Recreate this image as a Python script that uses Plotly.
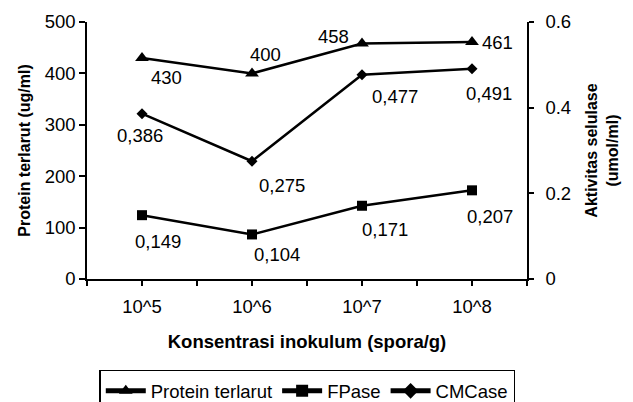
import plotly.graph_objects as go

categories = ["10^5", "10^6", "10^7", "10^8"]
protein = [430, 400, 458, 461]
fpase = [0.149, 0.104, 0.171, 0.207]
cmcase = [0.386, 0.275, 0.477, 0.491]

left_ticks = [0, 100, 200, 300, 400, 500]
right_ticks = [0, 0.2, 0.4, 0.6]
right_ticktext = ["0", "0.2", "0.4", "0.6"]

FONT = "Liberation Sans, Arial, sans-serif"
FS = 18.5
FS_V = 16

xpos = list(range(len(categories)))

fig = go.Figure()
fig.add_trace(go.Scatter(x=xpos, y=protein, name="Protein terlarut", mode="lines+markers",
                         line=dict(color="black", width=2.5),
                         marker=dict(symbol="triangle-up", size=12, color="black"),
                         yaxis="y", hoverinfo="skip"))
fig.add_trace(go.Scatter(x=xpos, y=fpase, name="FPase", mode="lines+markers",
                         line=dict(color="black", width=2.5),
                         marker=dict(symbol="square", size=10, color="black"),
                         yaxis="y2", hoverinfo="skip"))
fig.add_trace(go.Scatter(x=xpos, y=cmcase, name="CMCase", mode="lines+markers",
                         line=dict(color="black", width=2.5),
                         marker=dict(symbol="diamond", size=8.5, color="black"),
                         yaxis="y2", hoverinfo="skip"))

def fmt(v):
    return f"{v:.3f}".replace(".", ",")

protein_off = [(24, -20), (13, 19), (-29, 7), (25, 0)]
fpase_off = [(16, -26), (25, -20), (23, -24), (18, -26)]
cmcase_off = [(-2, -22), (30, -24), (33, -22), (17, -25)]

ann = []
for i, v in enumerate(protein):
    dx, dy = protein_off[i]
    ann.append(dict(x=xpos[i], y=v, xref="x", yref="y", text=str(v), showarrow=False,
                    xshift=dx, yshift=dy, font=dict(family=FONT, size=FS, color="black")))
for i, v in enumerate(fpase):
    dx, dy = fpase_off[i]
    ann.append(dict(x=xpos[i], y=v, xref="x", yref="y2", text=fmt(v), showarrow=False,
                    xshift=dx, yshift=dy, font=dict(family=FONT, size=FS, color="black")))
for i, v in enumerate(cmcase):
    dx, dy = cmcase_off[i]
    ann.append(dict(x=xpos[i], y=v, xref="x", yref="y2", text=fmt(v), showarrow=False,
                    xshift=dx, yshift=dy, font=dict(family=FONT, size=FS, color="black")))

half_ticks = [i * 0.5 - 0.5 for i in range(2 * len(categories) + 1)]
half_text = [categories[int(t)] if t >= 0 and float(t).is_integer() and int(t) < len(categories) else "" for t in half_ticks]

fig.update_layout(
    width=633, height=402,
    margin=dict(l=87, r=106, t=22, b=123, autoexpand=False),
    paper_bgcolor="white", plot_bgcolor="white",
    font=dict(family=FONT, size=FS, color="black"),
    xaxis=dict(range=[-0.5, len(categories) - 0.5], tickmode="array", tickvals=half_ticks, ticktext=half_text,
               ticks="outside", ticklen=5, tickwidth=1.5, tickcolor="black", automargin=False,
               ticklabelstandoff=5,
               showline=True, linecolor="black", linewidth=1.5, showgrid=False, zeroline=False,
               title=dict(text="<b>Konsentrasi inokulum (spora/g)</b>", standoff=19,
                          font=dict(family=FONT, size=FS, color="black")),
               fixedrange=True),
    xaxis2=dict(range=[-0.5, len(categories) - 0.5], overlaying="x", anchor="y", side="bottom",
                tickmode="array", tickvals=half_ticks, automargin=False,
                ticks="inside", ticklen=5, tickwidth=1.5, tickcolor="black",
                showline=False, showgrid=False, zeroline=False, showticklabels=False),
    xaxis3=dict(range=[-0.5, len(categories) - 0.5], overlaying="x", anchor="y", side="top",
                showline=True, linecolor="#999999", linewidth=1.5, ticks="", showticklabels=False,
                showgrid=False, zeroline=False, automargin=False),
    yaxis=dict(range=[0, 500], tickmode="array", tickvals=left_ticks, automargin=False,
               ticks="outside", ticklen=6, tickwidth=1.5, tickcolor="black",
               showline=True, linecolor="black", linewidth=1.5, showgrid=False, zeroline=False,
               title=dict(text="<b>Protein terlarut (ug/ml)</b>", standoff=10,
                          font=dict(family=FONT, size=FS_V, color="black")),
               fixedrange=True),
    yaxis2=dict(range=[0, 0.6], overlaying="y", side="right", anchor="x", tickmode="array",
                tickvals=right_ticks, ticktext=right_ticktext, automargin=False,
                ticks="outside", ticklen=5, tickwidth=1.5, tickcolor="black",
                ticklabelstandoff=8,
                showline=True, linecolor="black", linewidth=1.5, showgrid=False, zeroline=False,
                title=dict(text="<b>Aktivitas selulase<br>(umol/ml)</b>", standoff=16,
                           font=dict(family=FONT, size=FS_V, color="black")),
                fixedrange=True),
    yaxis3=dict(range=[0, 500], overlaying="y", side="left", anchor="x", tickmode="array",
                tickvals=left_ticks, ticks="inside", ticklen=6, tickwidth=1.5, tickcolor="black",
                showticklabels=False, showline=False, showgrid=False, zeroline=False, automargin=False),
    yaxis4=dict(range=[0, 0.6], overlaying="y", side="right", anchor="x", tickmode="array",
                tickvals=right_ticks, ticks="inside", ticklen=5, tickwidth=1.5, tickcolor="black",
                showticklabels=False, showline=False, showgrid=False, zeroline=False, automargin=False),
    legend=dict(orientation="h", x=0.5, xanchor="center", xref="paper",
                y=1 - 369.5 / 402, yanchor="top", yref="container",
                bordercolor="black", borderwidth=1.5, bgcolor="white",
                font=dict(family=FONT, size=FS, color="black"),
                title=dict(text=" ", side="top left", font=dict(family=FONT, size=1)),
                itemwidth=40, tracegroupgap=0, itemsizing="constant"),
    annotations=ann,
    showlegend=True,
)

fig.write_html("out.html", config={"displayModeBar": False},
               post_script="document.body.style.margin='0px';document.body.style.overflow='hidden';")
